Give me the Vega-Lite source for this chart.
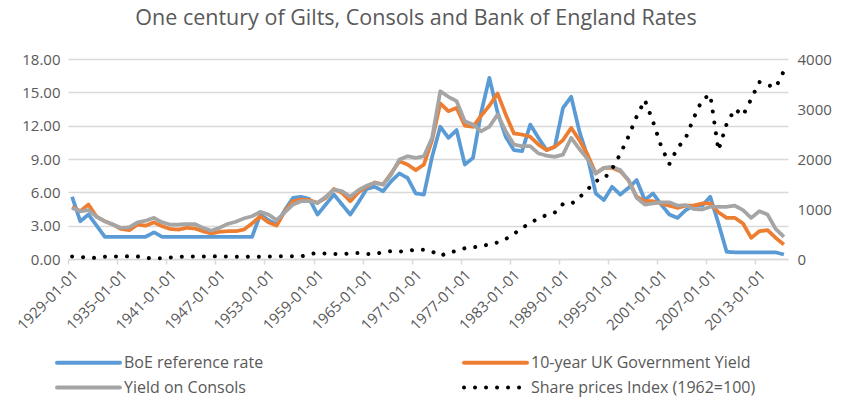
{
  "$schema": "https://vega.github.io/schema/vega-lite/v6.json",
  "width": 720,
  "height": 200,
  "autosize": {"type": "none"},
  "padding": {"left": 68, "top": 59, "right": 60, "bottom": 142},
  "background": "white",
  "title": {"text": "One century of Gilts, Consols and Bank of England Rates", "fontSize": 21.5, "font": "Open Sans", "fontWeight": "normal", "color": "#595959", "anchor": "middle", "offset": 23, "dx": -12},
  "config": {"view": {"stroke": null}, "font": "Open Sans"},
  "datasets": {
    "rates": [
      {"year": 1929, "boe": 5.6, "gilt": 4.7, "consol": 4.6, "share": 50},
      {"year": 1930, "boe": 3.4, "gilt": 4.3, "consol": 4.3, "share": 45},
      {"year": 1931, "boe": 4.0, "gilt": 4.9, "consol": 4.4, "share": 20},
      {"year": 1932, "boe": 3.0, "gilt": 3.8, "consol": 3.8, "share": 25},
      {"year": 1933, "boe": 2.0, "gilt": 3.4, "consol": 3.4, "share": 45},
      {"year": 1934, "boe": 2.0, "gilt": 3.1, "consol": 3.1, "share": 50},
      {"year": 1935, "boe": 2.0, "gilt": 2.7, "consol": 2.8, "share": 50},
      {"year": 1936, "boe": 2.0, "gilt": 2.6, "consol": 2.85, "share": 55},
      {"year": 1937, "boe": 2.0, "gilt": 3.1, "consol": 3.3, "share": 50},
      {"year": 1938, "boe": 2.0, "gilt": 3.0, "consol": 3.45, "share": 20},
      {"year": 1939, "boe": 2.4, "gilt": 3.3, "consol": 3.7, "share": 15},
      {"year": 1940, "boe": 2.0, "gilt": 2.95, "consol": 3.3, "share": 15},
      {"year": 1941, "boe": 2.0, "gilt": 2.7, "consol": 3.1, "share": 30},
      {"year": 1942, "boe": 2.0, "gilt": 2.65, "consol": 3.1, "share": 45},
      {"year": 1943, "boe": 2.0, "gilt": 2.8, "consol": 3.15, "share": 50},
      {"year": 1944, "boe": 2.0, "gilt": 2.75, "consol": 3.15, "share": 50},
      {"year": 1945, "boe": 2.0, "gilt": 2.5, "consol": 2.8, "share": 50},
      {"year": 1946, "boe": 2.0, "gilt": 2.3, "consol": 2.55, "share": 55},
      {"year": 1947, "boe": 2.0, "gilt": 2.45, "consol": 2.8, "share": 50},
      {"year": 1948, "boe": 2.0, "gilt": 2.5, "consol": 3.15, "share": 50},
      {"year": 1949, "boe": 2.0, "gilt": 2.5, "consol": 3.35, "share": 45},
      {"year": 1950, "boe": 2.0, "gilt": 2.65, "consol": 3.65, "share": 45},
      {"year": 1951, "boe": 2.0, "gilt": 3.2, "consol": 3.85, "share": 50},
      {"year": 1952, "boe": 4.0, "gilt": 3.85, "consol": 4.25, "share": 45},
      {"year": 1953, "boe": 3.5, "gilt": 3.3, "consol": 4.0, "share": 50},
      {"year": 1954, "boe": 3.1, "gilt": 3.0, "consol": 3.5, "share": 55},
      {"year": 1955, "boe": 4.4, "gilt": 4.3, "consol": 4.2, "share": 55},
      {"year": 1956, "boe": 5.5, "gilt": 5.2, "consol": 4.9, "share": 55},
      {"year": 1957, "boe": 5.6, "gilt": 5.35, "consol": 5.2, "share": 50},
      {"year": 1958, "boe": 5.4, "gilt": 5.3, "consol": 5.2, "share": 100},
      {"year": 1959, "boe": 4.0, "gilt": 5.05, "consol": 5.05, "share": 120},
      {"year": 1960, "boe": 4.9, "gilt": 5.5, "consol": 5.6, "share": 110},
      {"year": 1961, "boe": 5.8, "gilt": 6.3, "consol": 6.25, "share": 100},
      {"year": 1962, "boe": 4.9, "gilt": 5.95, "consol": 6.1, "share": 95},
      {"year": 1963, "boe": 4.0, "gilt": 5.2, "consol": 5.6, "share": 115},
      {"year": 1964, "boe": 5.1, "gilt": 6.0, "consol": 6.2, "share": 120},
      {"year": 1965, "boe": 6.3, "gilt": 6.5, "consol": 6.6, "share": 100},
      {"year": 1966, "boe": 6.5, "gilt": 6.9, "consol": 6.85, "share": 95},
      {"year": 1967, "boe": 6.1, "gilt": 6.7, "consol": 6.7, "share": 140},
      {"year": 1968, "boe": 7.0, "gilt": 7.7, "consol": 7.6, "share": 155},
      {"year": 1969, "boe": 7.7, "gilt": 8.8, "consol": 8.95, "share": 150},
      {"year": 1970, "boe": 7.3, "gilt": 8.5, "consol": 9.25, "share": 160},
      {"year": 1971, "boe": 5.9, "gilt": 8.0, "consol": 9.1, "share": 190},
      {"year": 1972, "boe": 5.8, "gilt": 8.5, "consol": 9.25, "share": 185},
      {"year": 1973, "boe": 9.2, "gilt": 10.7, "consol": 10.9, "share": 150},
      {"year": 1974, "boe": 11.9, "gilt": 14.0, "consol": 15.1, "share": 60},
      {"year": 1975, "boe": 10.9, "gilt": 13.3, "consol": 14.6, "share": 130},
      {"year": 1976, "boe": 11.6, "gilt": 13.6, "consol": 14.2, "share": 160},
      {"year": 1977, "boe": 8.5, "gilt": 12.0, "consol": 12.4, "share": 215},
      {"year": 1978, "boe": 9.1, "gilt": 11.9, "consol": 12.1, "share": 235},
      {"year": 1979, "boe": 13.2, "gilt": 12.9, "consol": 11.5, "share": 245},
      {"year": 1980, "boe": 16.3, "gilt": 13.8, "consol": 11.9, "share": 300},
      {"year": 1981, "boe": 13.2, "gilt": 14.9, "consol": 13.0, "share": 330},
      {"year": 1982, "boe": 11.0, "gilt": 13.0, "consol": 11.5, "share": 400},
      {"year": 1983, "boe": 9.8, "gilt": 11.3, "consol": 10.3, "share": 500},
      {"year": 1984, "boe": 9.7, "gilt": 11.2, "consol": 10.15, "share": 620},
      {"year": 1985, "boe": 12.1, "gilt": 11.0, "consol": 10.15, "share": 720},
      {"year": 1986, "boe": 10.9, "gilt": 10.3, "consol": 9.5, "share": 810},
      {"year": 1987, "boe": 9.8, "gilt": 9.8, "consol": 9.3, "share": 880},
      {"year": 1988, "boe": 10.1, "gilt": 10.1, "consol": 9.2, "share": 930},
      {"year": 1989, "boe": 13.6, "gilt": 10.7, "consol": 9.4, "share": 1100},
      {"year": 1990, "boe": 14.6, "gilt": 11.8, "consol": 10.9, "share": 1100},
      {"year": 1991, "boe": 11.5, "gilt": 10.7, "consol": 9.9, "share": 1230},
      {"year": 1992, "boe": 9.2, "gilt": 9.4, "consol": 9.0, "share": 1390},
      {"year": 1993, "boe": 5.9, "gilt": 7.7, "consol": 7.7, "share": 1560},
      {"year": 1994, "boe": 5.3, "gilt": 8.2, "consol": 8.2, "share": 1600},
      {"year": 1995, "boe": 6.5, "gilt": 8.2, "consol": 8.3, "share": 1800},
      {"year": 1996, "boe": 5.8, "gilt": 7.9, "consol": 8.0, "share": 2100},
      {"year": 1997, "boe": 6.4, "gilt": 7.1, "consol": 7.1, "share": 2450},
      {"year": 1998, "boe": 7.1, "gilt": 5.6, "consol": 5.5, "share": 2850},
      {"year": 1999, "boe": 5.3, "gilt": 5.2, "consol": 4.9, "share": 3180},
      {"year": 2000, "boe": 5.9, "gilt": 5.2, "consol": 5.0, "share": 2750},
      {"year": 2001, "boe": 4.9, "gilt": 5.0, "consol": 5.1, "share": 2250},
      {"year": 2002, "boe": 4.0, "gilt": 4.8, "consol": 5.1, "share": 1900},
      {"year": 2003, "boe": 3.7, "gilt": 4.6, "consol": 4.8, "share": 2220},
      {"year": 2004, "boe": 4.4, "gilt": 4.8, "consol": 4.85, "share": 2420},
      {"year": 2005, "boe": 4.8, "gilt": 4.8, "consol": 4.5, "share": 2830},
      {"year": 2006, "boe": 4.8, "gilt": 5.0, "consol": 4.45, "share": 3180},
      {"year": 2007, "boe": 5.6, "gilt": 5.0, "consol": 4.7, "share": 3290},
      {"year": 2008, "boe": 3.2, "gilt": 4.2, "consol": 4.7, "share": 2170},
      {"year": 2009, "boe": 0.65, "gilt": 3.7, "consol": 4.7, "share": 2700},
      {"year": 2010, "boe": 0.6, "gilt": 3.7, "consol": 4.8, "share": 3000},
      {"year": 2011, "boe": 0.6, "gilt": 3.2, "consol": 4.4, "share": 2870},
      {"year": 2012, "boe": 0.6, "gilt": 1.9, "consol": 3.7, "share": 3200},
      {"year": 2013, "boe": 0.6, "gilt": 2.5, "consol": 4.3, "share": 3540},
      {"year": 2014, "boe": 0.6, "gilt": 2.6, "consol": 4.0, "share": 3480},
      {"year": 2015, "boe": 0.6, "gilt": 1.9, "consol": 2.7, "share": 3430},
      {"year": 2016, "boe": 0.4, "gilt": 1.3, "consol": 2.0, "share": 3760}
    ]
  },
  "data": {"name": "rates"},
  "layer": [
    {
      "transform": [{"fold": ["boe", "gilt", "consol"], "as": ["series", "value"]}],
      "mark": {"type": "line", "strokeWidth": 3.75, "strokeJoin": "round"},
      "encoding": {
        "x": {"field": "year", "type": "quantitative",
          "scale": {"domain": [1928.5, 2016.5], "nice": false, "zero": false},
          "axis": {"values": [1929, 1935, 1941, 1947, 1953, 1959, 1965, 1971, 1977, 1983, 1989, 1995, 2001, 2007, 2013],
            "labelExpr": "datum.value + '-01-01'", "labelAngle": -45, "labelOverlap": false, "labelFlush": false, "labelBound": false,
            "grid": false, "domainColor": "#d9d9d9", "domainWidth": 1.5, "tickColor": "#d9d9d9", "tickWidth": 1.5, "tickSize": 5,
            "tickOffset": -4, "labelOffset": 2, "labelFontSize": 15, "labelColor": "#595959", "labelFont": "Open Sans", "labelPadding": 3, "title": null}},
        "y": {"field": "value", "type": "quantitative",
          "scale": {"domain": [0, 18], "nice": false},
          "axis": {"values": [0, 3, 6, 9, 12, 15, 18], "format": ".2f", "domain": false, "ticks": false, "labelPadding": 8,
            "labelFontSize": 15, "labelColor": "#595959", "labelFont": "Open Sans", "gridColor": "#d9d9d9", "gridWidth": 1.5, "title": null}},
        "color": {"field": "series", "type": "nominal",
          "scale": {"domain": ["boe", "gilt", "consol", "share"], "range": ["#5B9BD5", "#ED7D31", "#A5A5A5", "#000000"]},
          "legend": {"orient": "none", "legendX": -13, "legendY": 291, "direction": "horizontal", "columns": 2, "columnPadding": 192, "rowPadding": 4, "title": null,
            "symbolType": "M-1,0H5", "symbolSize": 441, "symbolStrokeWidth": 4, "labelFontSize": 16, "labelColor": "#595959", "labelFont": "Open Sans", "labelOffset": 44,
            "labelLimit": 400,
            "labelExpr": "datum.label == 'boe' ? 'BoE reference rate' : datum.label == 'gilt' ? '10-year UK Government Yield' : datum.label == 'consol' ? 'Yield on Consols' : 'Share prices Index (1962=100)'",
            "encode": {"symbols": {"update": {"strokeCap": {"value": "round"}}}}}},
        "strokeDash": {"field": "series", "type": "nominal",
          "scale": {"domain": ["boe", "gilt", "consol", "share"], "range": [[1, 0], [1, 0], [1, 0], [0.01, 11]]},
          "legend": {"orient": "none", "legendX": -13, "legendY": 291, "direction": "horizontal", "columns": 2, "columnPadding": 192, "rowPadding": 4, "title": null,
            "symbolType": "M-1,0H5", "symbolSize": 441, "symbolStrokeWidth": 4, "labelFontSize": 16, "labelColor": "#595959", "labelFont": "Open Sans", "labelOffset": 44,
            "labelLimit": 400,
            "labelExpr": "datum.label == 'boe' ? 'BoE reference rate' : datum.label == 'gilt' ? '10-year UK Government Yield' : datum.label == 'consol' ? 'Yield on Consols' : 'Share prices Index (1962=100)'",
            "encode": {"symbols": {"update": {"strokeCap": {"value": "round"}}}}}}
      }
    },
    {
      "transform": [{"fold": ["share"], "as": ["series", "value"]}],
      "mark": {"type": "line", "strokeWidth": 4, "strokeCap": "round", "strokeJoin": "round"},
      "encoding": {
        "x": {"field": "year", "type": "quantitative", "scale": {"domain": [1928.5, 2016.5], "nice": false, "zero": false}},
        "y": {"field": "value", "type": "quantitative",
          "scale": {"domain": [0, 4000], "nice": false},
          "axis": {"orient": "right", "values": [0, 1000, 2000, 3000, 4000], "format": "d", "grid": false, "domain": false, "ticks": false,
            "labelPadding": 9, "labelFontSize": 15, "labelColor": "#595959", "labelFont": "Open Sans", "title": null}},
        "color": {"field": "series", "type": "nominal",
          "scale": {"domain": ["boe", "gilt", "consol", "share"], "range": ["#5B9BD5", "#ED7D31", "#A5A5A5", "#000000"]}},
        "strokeDash": {"field": "series", "type": "nominal",
          "scale": {"domain": ["boe", "gilt", "consol", "share"], "range": [[1, 0], [1, 0], [1, 0], [0.01, 11]]}}
      }
    }
  ],
  "resolve": {"scale": {"y": "independent"}}
}
